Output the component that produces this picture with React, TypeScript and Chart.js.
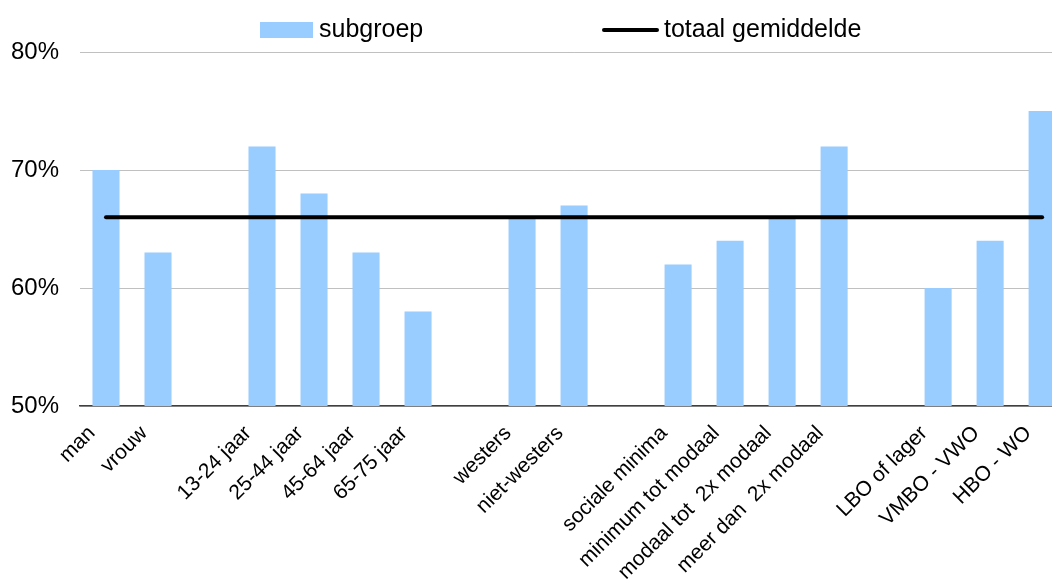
import React, { useEffect, useRef } from 'react';
import { Chart, registerables } from 'chart.js';

Chart.register(...registerables);

const categories: string[] = [
  'man', 'vrouw', '',
  '13-24 jaar', '25-44 jaar', '45-64 jaar', '65-75 jaar', '',
  'westers', 'niet-westers', '',
  'sociale minima', 'minimum tot modaal', 'modaal tot  2x modaal', 'meer dan  2x modaal', '',
  'LBO of lager', 'VMBO - VWO', 'HBO - WO',
];

const subgroep: (number | null)[] = [
  70, 63, null,
  72, 68, 63, 58, null,
  66, 67, null,
  62, 64, 66, 72, null,
  60, 64, 75,
];

const totaalGemiddelde: number[] = [
  66, 66, 66,
  66, 66, 66, 66, 66,
  66, 66, 66,
  66, 66, 66, 66, 66,
  66, 66, 66,
];

const yMin = 50;
const yMax = 80;
const yStep = 10;

const FONT = '"Liberation Sans", Arial, sans-serif';

const legendPlugin = {
  id: 'customLegend',
  afterDraw(chart: any) {
    const ctx = chart.ctx as CanvasRenderingContext2D;
    const ds = chart.data.datasets;
    const bar = ds.find((d: any) => d.type === 'bar');
    const line = ds.find((d: any) => d.type === 'line');
    ctx.save();
    ctx.font = `25px ${FONT}`;
    ctx.textBaseline = 'middle';
    ctx.textAlign = 'left';
    ctx.fillStyle = bar.backgroundColor;
    ctx.fillRect(260, 22, 53, 16);
    ctx.fillStyle = '#000';
    ctx.fillText(bar.label, 319, 30);
    ctx.strokeStyle = line.borderColor;
    ctx.lineWidth = 4;
    ctx.lineCap = 'round';
    ctx.beginPath();
    ctx.moveTo(604, 30);
    ctx.lineTo(657, 30);
    ctx.stroke();
    ctx.fillText(line.label, 664, 30);
    ctx.restore();
  },
};

export default function App() {
  const ref = useRef<HTMLCanvasElement | null>(null);

  useEffect(() => {
    if (!ref.current) return;
    const chart = new Chart(ref.current, {
      data: {
        labels: categories,
        datasets: [
          {
            type: 'line' as const,
            label: 'totaal gemiddelde',
            data: totaalGemiddelde,
            borderColor: '#000000',
            backgroundColor: '#000000',
            borderWidth: 4,
            borderCapStyle: 'round',
            pointRadius: 0,
            pointHoverRadius: 0,
            fill: false,
            order: 0,
          },
          {
            type: 'bar' as const,
            label: 'subgroep',
            data: subgroep,
            backgroundColor: '#99CCFF',
            borderWidth: 0,
            barPercentage: 0.52,
            categoryPercentage: 1,
            order: 1,
          },
        ],
      } as any,
      options: {
        animation: false,
        responsive: false,
        devicePixelRatio: 1,
        layout: { padding: { top: 52, right: 2, left: 0, bottom: 0 } },
        plugins: {
          legend: { display: false },
          title: { display: false },
          tooltip: { enabled: false },
        },
        scales: {
          x: {
            offset: true,
            grid: { display: false, drawTicks: false },
            border: { display: true, color: '#404040', width: 1.5 },
            ticks: {
              autoSkip: false,
              maxRotation: 45,
              minRotation: 45,
              padding: 15,
              labelOffset: -14,
              color: '#000',
              font: { family: FONT, size: 21 },
            },
            afterFit(scale: any) {
              scale.height = 173;
            },
          },
          y: {
            min: yMin,
            max: yMax,
            grid: { color: '#c0c0c0', lineWidth: 1, drawTicks: false },
            border: { display: false },
            ticks: {
              stepSize: yStep,
              padding: 21,
              color: '#000',
              font: { family: FONT, size: 24 },
              callback: (v: any) => `${v}%`,
            },
            afterFit(scale: any) {
              scale.width = 80;
            },
          },
        },
      } as any,
      plugins: [legendPlugin],
    });
    return () => chart.destroy();
  }, []);

  return (
    <div
      style={{
        position: 'fixed',
        left: 0,
        top: 0,
        width: 1052,
        height: 579,
        overflow: 'hidden',
        background: '#fff',
      }}
    >
      <canvas ref={ref} width={1075} height={579} style={{ width: 1075, height: 579, display: 'block' }} />
    </div>
  );
}
